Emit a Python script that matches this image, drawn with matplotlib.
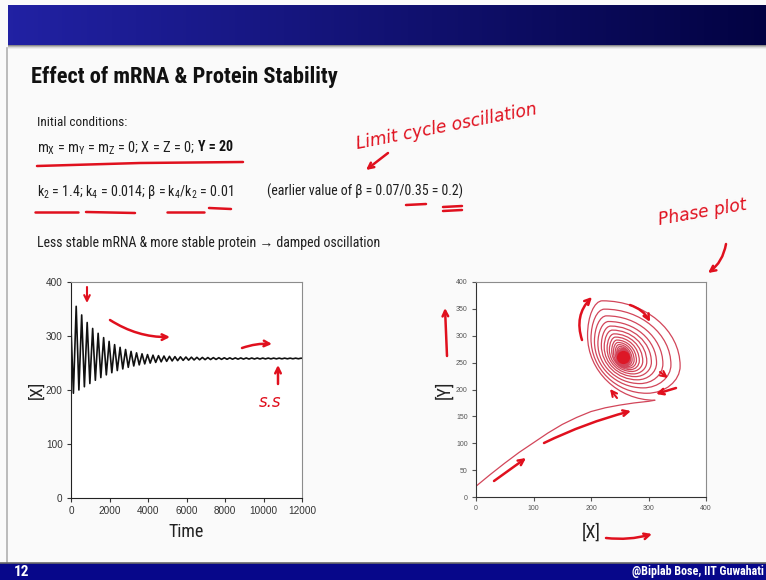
import numpy as np
import matplotlib
matplotlib.use("Agg")
import matplotlib.pyplot as plt
from matplotlib import font_manager as fm
from matplotlib.path import Path
from matplotlib.patches import PathPatch, Rectangle

# ------------------------------------------------------------------ data
time_ticks = [0, 2000, 4000, 6000, 8000, 10000, 12000]
left_yticks = [0, 100, 200, 300, 400]
phase_xticks = [0, 100, 200, 300, 400]
phase_yticks = [0, 50, 100, 150, 200, 250, 300, 350, 400]

x_start = 315          # [X] at t = 0
x_final = 258.7        # [X] at t = 12000
t_final = 12000
first_trough_t = 125
first_peak_t = 270
period = 285

x_peaks = [355, 339, 325, 314, 305, 297, 290, 284, 279, 275, 271.5, 268.8,
           267, 265.6, 264.5, 263.6, 262.9, 262.3, 261.8, 261.4, 261.05, 260.75,
           260.5, 260.3, 260.1, 259.95, 259.8, 259.68, 259.57, 259.48, 259.4,
           259.33, 259.27, 259.22, 259.17, 259.13, 259.09, 259.06, 259.03,
           259.0, 258.98, 258.96]
x_troughs = [194, 200, 206, 212, 218, 223, 228, 232, 236, 239, 242, 244.5,
             246.5, 248.3, 249.8, 251.1, 252.2, 253.1, 253.8, 254.4, 254.9,
             255.3, 255.65, 255.95, 256.2, 256.4, 256.6, 256.75, 256.9, 257.02,
             257.13, 257.23, 257.32, 257.4, 257.47, 257.54, 257.6, 257.66,
             257.71, 257.76, 257.8, 257.84]

# phase plot: initial approach curve ([X], [Y])
init_x = [0, 25, 50, 75, 100, 125, 150, 175, 200, 225, 250, 275, 300, 311]
init_y = [20, 42, 63, 83, 101, 119, 135, 148, 159, 166, 171, 175, 178, 180]
# [Y] maxima (top of each ring) and minima (bottom of each following ring)
y_peaks = [365, 349.5, 337, 326.5, 318, 310.5, 303.5, 297.5, 292, 287.5, 283.5,
           280, 277, 274.4, 272.2, 270.3, 268.6, 267.1, 265.8, 264.7, 263.7,
           262.8, 262.1, 261.5, 261.0, 260.5]
y_troughs = [193, 203, 211, 218, 224, 229, 233.5, 237, 240, 242.7, 245, 247,
             248.6, 250, 251.2, 252.2, 253.1, 253.8, 254.4, 254.9, 255.4,
             255.8, 256.1, 256.4, 256.6, 256.8]
steady_x, steady_y = 258.5, 258.0

# ------------------------------------------------------------------ fonts
names = {e.name for e in fm.fontManager.ttflist}
cond_name, cond_stretch = None, "normal"
for cand in ["Liberation Sans Narrow", "Arial Narrow", "Roboto Condensed",
             "Open Sans Condensed", "DejaVu Sans Condensed",
             "Noto Sans Condensed"]:
    if cand in names:
        cond_name = cand
        break
if cond_name is None:
    for e in fm.fontManager.ttflist:
        if str(e.stretch) in ("condensed", "semi-condensed") and e.name in (
                "Noto Sans", "Open Sans", "DejaVu Sans", "Roboto", "Liberation Sans"):
            cond_name, cond_stretch = e.name, str(e.stretch)
            break
if cond_name is None:
    cond_name = "Liberation Sans"

NARROW = [cond_name, "Liberation Sans", "DejaVu Sans"]
plt.rcParams["font.family"] = ["Liberation Sans", "DejaVu Sans"]

W, H = 766, 580
fig = plt.figure(figsize=(W / 100, H / 100), dpi=100)
fig.patch.set_facecolor("#fafafa")
renderer = fig.canvas.get_renderer()


def fit(t, x0, x1):
    bb = t.get_window_extent(renderer)
    if bb.width > 0:
        t.set_fontsize(t.get_fontsize() * (x1 - x0) / bb.width)
    return t


def ntext(ax, x, y, s, size, **kw):
    kw.setdefault("va", "center")
    kw.setdefault("ha", "left")
    return ax.text(x, y, s, fontsize=size, family=NARROW,
                   fontstretch=cond_stretch, **kw)


# background slide axes in pixel coordinates
bg = fig.add_axes([0, 0, 1, 1], zorder=0)
bg.set_xlim(0, W)
bg.set_ylim(H, 0)
bg.axis("off")

# header gradient bar
grad = np.linspace(0, 1, 256)[None, :]
c0 = np.array([0.13, 0.13, 0.64])
c1 = np.array([0.01, 0.01, 0.26])
img = c0[None, None, :] * (1 - grad[..., None]) + c1[None, None, :] * grad[..., None]
bg.imshow(img, extent=[8, W, 45, 5], aspect="auto", zorder=1)
for i, col in enumerate(["#8a8a8a", "#b5b5b5", "#d8d8d8", "#ececec"]):
    bg.add_patch(Rectangle((8, 45 + i), W - 8, 1, color=col, lw=0, zorder=1))
bg.plot([7, 7], [48, 563], color="#b0b0b0", lw=1.2, zorder=1)

# footer
bg.add_patch(Rectangle((0, 563), W, 17, color="#07078a", lw=0, zorder=1))
bg.plot([0, W], [562.5, 562.5], color="#6a6a6a", lw=1.2, zorder=1)
ntext(bg, 14, 572, "12", 11, color="white", fontweight="bold")
fit(ntext(bg, 764, 572, "@Biplab Bose, IIT Guwahati", 11, color="white",
          fontweight="bold", ha="right"), 632, 764)

# title and body text
fit(ntext(bg, 31, 77, "Effect of mRNA & Protein Stability", 16,
          fontweight="bold", color="#111111"), 32, 338)
txtc = "#1e1e1e"
fit(ntext(bg, 37, 123, "Initial conditions:", 12, color=txtc), 37, 127)
fit(ntext(bg, 37, 148,
          r"m$_\mathregular{X}$ = m$_\mathregular{Y}$ = m$_\mathregular{Z}$ = 0; X = Z = 0;",
          12, color=txtc), 37, 195)
fit(ntext(bg, 198, 147, "Y = 20", 12, fontweight="bold", color="#111111"),
    198, 233)
fit(ntext(bg, 37, 192,
          r"k$_\mathregular{2}$ = 1.4; k$_\mathregular{4}$ = 0.014; β = k$_\mathregular{4}$/k$_\mathregular{2}$ = 0.01",
          12, color=txtc), 37, 233)
fit(ntext(bg, 267, 191, "(earlier value of β = 0.07/0.35 = 0.2)", 12,
          color=txtc), 267, 465)
fit(ntext(bg, 37, 243, "Less stable mRNA & more stable protein → damped oscillation",
          12, color=txtc), 37, 381)

# ------------------------------------------------------------------ left plot
axL = fig.add_axes([71 / W, 1 - 498 / H, 231 / W, 216 / H], zorder=2)
t_vals = [0]
x_vals = [x_start]
for k in range(len(x_peaks)):
    t_vals += [first_trough_t + period * k, first_peak_t + period * k]
    x_vals += [x_troughs[k], x_peaks[k]]
t_vals.append(t_final)
x_vals.append(x_final)
axL.plot(t_vals, x_vals, color="#111111", lw=1.2)
axL.set_xlim(0, 12000)
axL.set_ylim(0, 400)
axL.set_xticks(time_ticks)
axL.set_yticks(left_yticks)
axL.tick_params(direction="out", length=3, labelsize=7.2, colors="#333333",
                pad=3)
axL.set_facecolor("white")
for s in ["left", "bottom"]:
    axL.spines[s].set_color("#222222")
for s in ["top", "right"]:
    axL.spines[s].set_color("#8c8c8c")
axL.set_xlabel("Time", fontsize=13, color="#222222", labelpad=5,
               family=NARROW, fontstretch=cond_stretch)
axL.set_ylabel("[X]", fontsize=12.5, color="#222222", labelpad=1,
               family=NARROW, fontstretch=cond_stretch)

# ------------------------------------------------------------------ right plot
axR = fig.add_axes([476 / W, 1 - 497 / H, 230 / W, 215 / H], zorder=2)
phase_col = "#d2465a"
axR.plot(init_x, init_y, color=phase_col, lw=0.9)

kap = 0.55
fyL, fxT, fyR, fxB = 0.40, 0.60, 0.22, 0.40
cx, cy = steady_x, steady_y
cur = (init_x[-1], init_y[-1])
verts = [cur]
codes = [Path.MOVETO]
n = min(len(y_peaks), len(y_troughs))
for k in range(n):
    L = (x_troughs[k], cy + fyL * (y_peaks[k] - cy))
    T = (cx - fxT * (cx - x_troughs[k]), y_peaks[k])
    R = (x_peaks[k], cy - fyR * (cy - y_troughs[k]))
    B = (cx + fxB * (x_peaks[k] - cx), y_troughs[k])
    verts += [(cur[0] - kap * (cur[0] - L[0]), cur[1]),
              (L[0], L[1] - kap * (L[1] - cur[1])), L]
    verts += [(L[0], L[1] + kap * (T[1] - L[1])),
              (T[0] - kap * (T[0] - L[0]), T[1]), T]
    verts += [(T[0] + kap * (R[0] - T[0]), T[1]),
              (R[0], R[1] + kap * (T[1] - R[1])), R]
    verts += [(R[0], R[1] - kap * (R[1] - B[1])),
              (B[0] + kap * (R[0] - B[0]), B[1]), B]
    codes += [Path.CURVE4] * 12
    cur = B
axR.add_patch(PathPatch(Path(verts, codes), fill=False, ec=phase_col, lw=0.9))
axR.set_xlim(0, 400)
axR.set_ylim(0, 400)
axR.set_xticks(phase_xticks)
axR.set_yticks(phase_yticks)
axR.tick_params(direction="out", length=3, labelsize=5, colors="#555555",
                pad=3)
axR.set_facecolor("white")
for s in ["left", "bottom"]:
    axR.spines[s].set_color("#333333")
for s in ["top", "right"]:
    axR.spines[s].set_color("#8c8c8c")
axR.set_xlabel("[X]", fontsize=13, color="#222222", labelpad=8,
               family=NARROW, fontstretch=cond_stretch)
axR.set_ylabel("[Y]", fontsize=13, color="#222222", labelpad=2,
               family=NARROW, fontstretch=cond_stretch)

# ------------------------------------------------------------------ handwriting overlay
ov = fig.add_axes([0, 0, 1, 1], zorder=5)
ov.set_xlim(0, W)
ov.set_ylim(H, 0)
ov.axis("off")
ov.patch.set_alpha(0)
red = "#e0101e"
hw = dict(color=red, lw=1.8, solid_capstyle="round")


def arrow(p0, p1, rad=0.0, lw=1.8):
    ov.annotate("", xy=p1, xytext=p0,
                arrowprops=dict(arrowstyle="->", color=red, lw=lw,
                                connectionstyle=f"arc3,rad={rad}",
                                shrinkA=0, shrinkB=0))


# underlines
ov.plot([37, 140, 243], [166, 163, 162], **hw)
ov.plot([35, 78], [212, 212], **hw)
ov.plot([86, 135], [212, 213], **hw)
ov.plot([167, 204], [212, 212], **hw)
ov.plot([209, 231], [208, 209], **hw)
ov.plot([406, 426], [205, 204], **hw)
ov.plot([443, 462], [207, 206], **hw)
ov.plot([443, 462], [211, 210], **hw)

ov.text(355, 127, "Limit cycle oscillation", color=red, fontsize=12.3,
        style="italic", rotation=11, ha="left", va="center",
        family=["DejaVu Sans"])
arrow((388, 153), (366, 170))
ov.text(657, 212, "Phase plot", color=red, fontsize=12.3, style="italic",
        rotation=10, ha="left", va="center", family=["DejaVu Sans"])
arrow((726, 244), (708, 273), rad=-0.2)

# left plot marks
arrow((87, 287), (87, 303), lw=1.5)
arrow((110, 320), (170, 337), rad=0.15)
arrow((242, 348), (272, 344), rad=-0.1)
arrow((278, 384), (278, 365))
ov.text(270, 402, "s.s", color=red, fontsize=12, style="italic",
        ha="center", va="center", family=["DejaVu Sans"])

# right plot marks
arrow((447, 356), (445, 308))
arrow((606, 538), (652, 534), rad=0.1)
arrow((494, 481), (526, 458))
arrow((544, 443), (631, 411), rad=-0.05)
arrow((582, 340), (592, 297), rad=-0.3)
arrow((630, 305), (650, 322), rad=-0.2)
arrow((676, 388), (656, 394))
arrow((617, 398), (610, 389), lw=1.5)
arrow((660, 372), (668, 378), lw=1.5)
ov.scatter([623], [357], s=90, color=red, alpha=0.85, lw=0)

fig.savefig("out.png", dpi=100, facecolor=fig.get_facecolor())
